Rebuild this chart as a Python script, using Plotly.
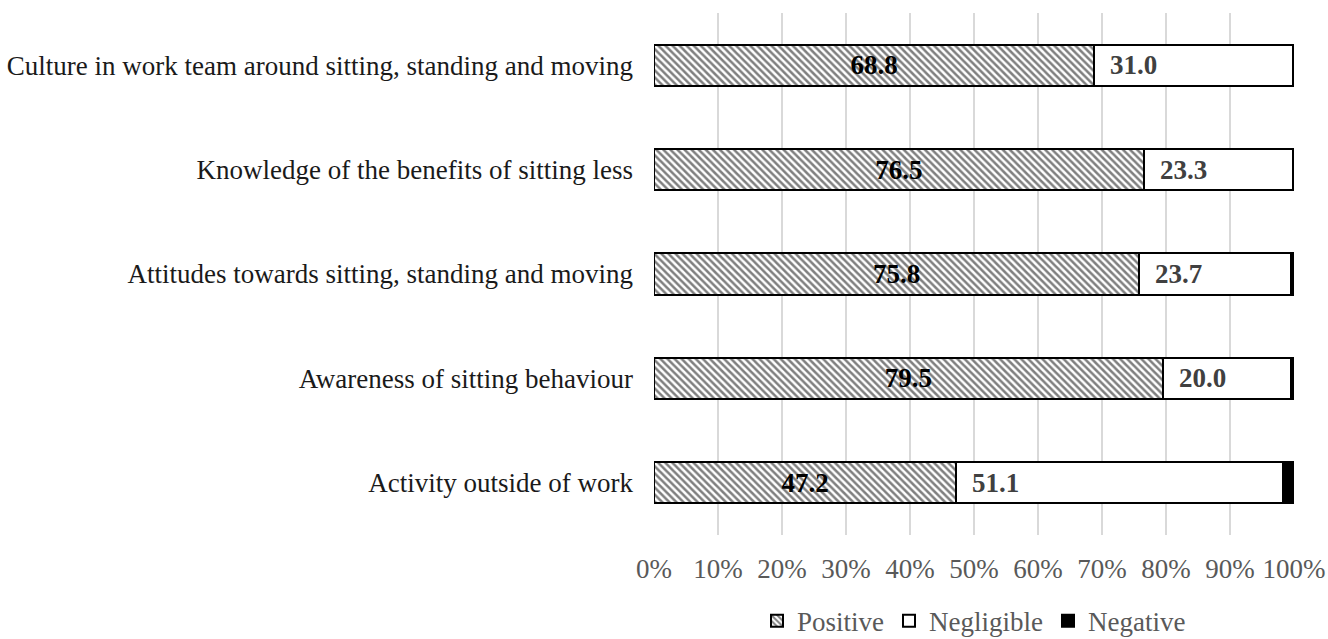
import plotly.graph_objects as go

categories = [
    "Culture in work team around sitting, standing and moving",
    "Knowledge of the benefits of sitting less",
    "Attitudes towards sitting, standing and moving",
    "Awareness of sitting behaviour",
    "Activity outside of work",
]
positive = [68.8, 76.5, 75.8, 79.5, 47.2]
negligible = [31.0, 23.3, 23.7, 20.0, 51.1]
negative = [0.2, 0.2, 0.5, 0.5, 1.7]
tick_vals = [0, 10, 20, 30, 40, 50, 60, 70, 80, 90, 100]
tick_text = [f"{v}%" for v in tick_vals]

FONT = "Liberation Serif, Times New Roman, serif"
FS = 27

fig = go.Figure()
fig.add_trace(go.Bar(
    y=categories, x=positive, orientation="h", name="Positive",
    marker=dict(color="white", line=dict(color="black", width=2),
                pattern=dict(shape="\\", fgcolor="black", bgcolor="white", size=5,
                             solidity=0.5, fillmode="overlay")),
    text=[f"{v:.1f}" for v in positive], textposition="inside", insidetextanchor="middle",
    textfont=dict(family=FONT, size=FS, color="black", weight="bold"),
    constraintext="none", hoverinfo="skip",
))
fig.add_trace(go.Bar(
    y=categories, x=negligible, orientation="h", name="Negligible",
    marker=dict(color="white", line=dict(color="black", width=2)),
    hoverinfo="skip",
))
fig.add_trace(go.Bar(
    y=categories, x=negative, orientation="h", name="Negative",
    marker=dict(color="black", line=dict(color="black", width=2)),
    hoverinfo="skip",
))

for c, p, n in zip(categories, positive, negligible):
    fig.add_annotation(x=p + 2.2, y=c, text=f"<b>{n:.1f}</b>", showarrow=False,
                       xanchor="left", yanchor="middle",
                       font=dict(family=FONT, size=FS, color="#404040"))

fig.update_layout(
    barmode="stack", bargap=0.607,
    width=1328, height=639,
    margin=dict(l=654, r=34, t=13, b=104, autoexpand=False),
    plot_bgcolor="white", paper_bgcolor="white",
    font=dict(family=FONT, size=FS, color="#595959"),
    xaxis=dict(range=[0, 100], tickvals=tick_vals, ticktext=tick_text,
               showgrid=True, gridcolor="#d9d9d9", gridwidth=2, zeroline=False,
               showline=False, ticks="", tickfont=dict(size=FS, color="#595959"),
               ticklabelstandoff=15, automargin=False),
    yaxis=dict(categoryorder="array", categoryarray=categories[::-1],
               showgrid=False, showline=False, ticks="", automargin=False,
               tickfont=dict(size=FS, color="#1a1a1a"), ticklabelstandoff=20),
    legend=dict(orientation="h", x=0.5, xanchor="center", y=-0.165, yanchor="middle",
                font=dict(size=FS, color="#595959"), itemwidth=30,
                traceorder="normal", bgcolor="rgba(0,0,0,0)"),
    showlegend=True,
)

fig.write_html("out.html", config={"displayModeBar": False},
               post_script="document.body.style.margin='0px';document.body.style.overflow='hidden';")
